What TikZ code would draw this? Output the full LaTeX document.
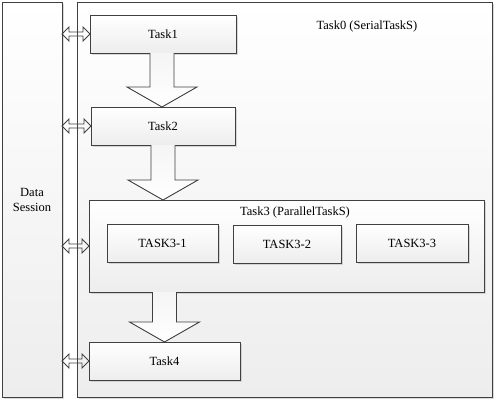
\documentclass[tikz,border=0pt]{standalone}
\usepackage{fontspec}
\setmainfont{Liberation Serif}
\usetikzlibrary{arrows.meta, calc, positioning, shadows}

\begin{document}
\begin{tikzpicture}[x=1pt,y=-1pt,every node/.style={outer sep=0pt,font=\fontsize{12.5}{15}\selectfont}]
\tikzstyle{box}=[draw=black!75,line width=0.9pt,top color=white,bottom color=black!7,drop shadow={shadow xshift=2pt,shadow yshift=-2pt,fill=black!25,opacity=0.6}]
\tikzstyle{fatarrow}=[draw=black!75,line width=0.9pt,top color=black!4,bottom color=white]
\tikzstyle{link}=[draw=black!75,line width=0.8pt,line join=miter]

\useasboundingbox (0,0) rectangle (498,402);

% left side and outer frame
\node (ds) [box,anchor=north west,minimum width=60pt,minimum height=395pt] at (2,2) {};
\node (dslbl) [align=center] at (ds.center) {Data\\Session};
\node (t0) [box,anchor=north west,minimum width=415pt,minimum height=395pt] at (77,2) {};
\node (t0lbl) at (367,26) {Task0 (SerialTaskS)};

% serial tasks
\node (t1) [box,anchor=north west,minimum width=146pt,minimum height=38pt] at (90,15) {Task1};
\node (t2) [box,anchor=north west,minimum width=144pt,minimum height=38pt] at (91,107) {Task2};
\node (t3) [box,anchor=north west,minimum width=395pt,minimum height=92pt] at (89,200) {};
\node (t3lbl) at (295,212) {Task3 (ParallelTaskS)};
\node (t31) [box,anchor=north west,minimum width=111pt,minimum height=38pt] at (107,224) {TASK3-1};
\node (t32) [box,anchor=north west,minimum width=108pt,minimum height=38pt] at (233,225) {TASK3-2};
\node (t33) [box,anchor=north west,minimum width=112pt,minimum height=38pt] at (356,224) {TASK3-3};
\node (t4) [box,anchor=north west,minimum width=151pt,minimum height=38pt] at (89,342) {Task4};

% fat arrows between the steps
\newcommand{\fatarrow}[2]{
\draw [fatarrow] ($(#1)+(-12,0)$) -- ($(#2)+(-12,-20)$) -- ($(#2)+(-35,-20)$) -- (#2)
  -- ($(#2)+(35,-20)$) -- ($(#2)+(12,-20)$) -- ($(#1)+(12,0)$);
}
\coordinate (a1s) at ($(t1.south)+(-1,0)$);
\coordinate (a1e) at (a1s |- t2.north);
\fatarrow{a1s}{a1e}
\coordinate (a2s) at (t2.south);
\coordinate (a2e) at (a2s |- t3.north);
\fatarrow{a2s}{a2e}
\coordinate (a3s) at (t3.south -| t4.north);
\coordinate (a3e) at (t4.north);
\fatarrow{a3s}{a3e}

% data session links (hollow double arrows)
\newcommand{\linkarrow}[2]{
\draw [link] (#1) -- ($(#1)+(7,-7)$) -- ($(#1)+(7,-2)$) -- ($(#2)+(-7,-2)$) -- ($(#2)+(-7,-7)$)
  -- (#2) -- ($(#2)+(-7,7)$) -- ($(#2)+(-7,2)$) -- ($(#1)+(7,2)$) -- ($(#1)+(7,7)$) -- cycle;
}
\foreach \t in {t1,t2,t3,t4}{
  \coordinate (ls) at (ds.east |- \t.west);
  \linkarrow{ls}{\t.west}
}

\end{tikzpicture}
\end{document}
